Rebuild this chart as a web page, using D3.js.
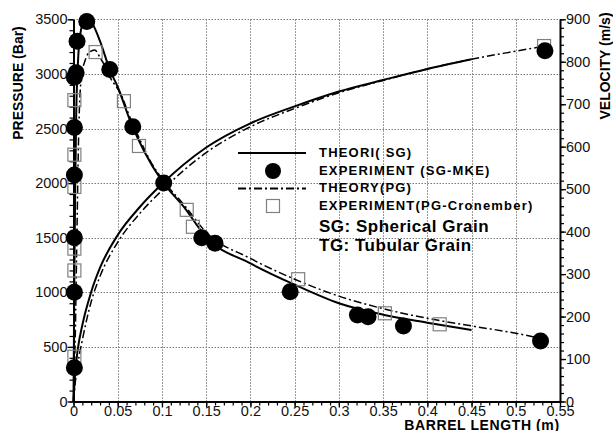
<!DOCTYPE html>
<html>
<head>
<meta charset="utf-8">
<script src="https://cdn.jsdelivr.net/npm/d3@7"></script>
<style>
  html, body { margin: 0; padding: 0; background: #fff; }
  svg { display: block; font-family: "Liberation Sans", Arial, sans-serif; }
</style>
</head>
<body>
<svg id="chart" width="613" height="431"></svg>
<script>
// Barrel length (m) vs chamber pressure (bar, left axis) and projectile velocity (m/s, right axis)

// Theory, spherical grain: pressure along the barrel
const theorySGPressX = [0, 0.0005, 0.001, 0.002, 0.003, 0.005, 0.008, 0.012, 0.016, 0.022, 0.03, 0.041, 0.05, 0.066, 0.08, 0.1, 0.125, 0.15, 0.2, 0.25, 0.3, 0.35, 0.4, 0.45];
const theorySGPress  = [0, 600, 1200, 2000, 2600, 3100, 3380, 3480, 3500, 3450, 3300, 3040, 2880, 2530, 2290, 2020, 1780, 1505, 1265, 1070, 900, 795, 722, 655];

// Theory, spherical grain: velocity along the barrel
const theorySGVelX = [0, 0.002, 0.005, 0.01, 0.02, 0.03, 0.05, 0.075, 0.1, 0.15, 0.2, 0.25, 0.3, 0.35, 0.4, 0.45];
const theorySGVel  = [0, 70, 125, 180, 258, 315, 392, 458, 512, 598, 655, 695, 730, 757, 783, 806];

// Theory, PG: pressure along the barrel
const theoryPGPressX = [0, 0.002, 0.004, 0.006, 0.009, 0.013, 0.018, 0.024, 0.03, 0.035, 0.041, 0.055, 0.062, 0.075, 0.087, 0.1, 0.125, 0.15, 0.2, 0.25, 0.3, 0.35, 0.4, 0.45, 0.5, 0.53];
const theoryPGPress  = [0, 600, 1600, 2500, 2980, 3120, 3200, 3220, 3150, 3080, 2975, 2790, 2640, 2400, 2200, 2040, 1800, 1550, 1310, 1120, 965, 850, 762, 692, 625, 575];

// Theory, PG: velocity along the barrel
const theoryPGVelX = [0, 0.002, 0.005, 0.01, 0.02, 0.03, 0.05, 0.075, 0.1, 0.15, 0.2, 0.25, 0.3, 0.35, 0.4, 0.45, 0.5, 0.53];
const theoryPGVel  = [0, 45, 90, 145, 235, 295, 375, 443, 497, 586, 647, 690, 727, 756, 783, 806, 825, 836];

// Experiment (SG-MKE): pressure points
const expSGPressX = [0.001, 0.001, 0.001, 0.001, 0.001, 0.001, 0.003, 0.004, 0.015, 0.041, 0.067, 0.102, 0.145, 0.16, 0.245, 0.321, 0.333, 0.373, 0.528];
const expSGPress  = [310, 1000, 1500, 2075, 2510, 2970, 3010, 3300, 3480, 3040, 2515, 2000, 1500, 1450, 1005, 792, 777, 691, 554];
// Experiment (SG-MKE): muzzle velocity
const expSGVelX = [0.533];
const expSGVel  = [826];

// Experiment (PG-Cronember): pressure points
const expPGPressX = [0.001, 0.001, 0.001, 0.001, 0.001, 0.001, 0.025, 0.057, 0.074, 0.128, 0.135, 0.254, 0.352, 0.414];
const expPGPress  = [410, 1200, 1400, 1965, 2260, 2760, 3200, 2750, 2340, 1755, 1600, 1120, 808, 707];
// Experiment (PG-Cronember): muzzle velocity
const expPGVelX = [0.532];
const expPGVel  = [837];

// Axis ticks
const xTicks = [0, 0.05, 0.1, 0.15, 0.2, 0.25, 0.3, 0.35, 0.4, 0.45, 0.5, 0.55];
const pressTicks = [0, 500, 1000, 1500, 2000, 2500, 3000, 3500];
const velTicks = [0, 100, 200, 300, 400, 500, 600, 700, 800, 900];

// Legend entries
const legendLabels = ["THEORI( SG)", "EXPERIMENT (SG-MKE)", "THEORY(PG)", "EXPERIMENT(PG-Cronember)"];
const noteLabels = ["SG: Spherical Grain", "TG: Tubular Grain"];

const svg = d3.select("#chart");
const plotL = 73.5, plotR = 560, plotT = 19.3, plotB = 401.5;

const x = d3.scaleLinear().domain([0, 0.55]).range([plotL, plotR]);
const yP = d3.scaleLinear().domain([0, 3500]).range([plotB, plotT]);
const yV = d3.scaleLinear().domain([0, 900]).range([plotB, plotT]);

const DASHDOT = "8,3,2,3";

// Dotted grid
const grid = svg.append("g").attr("stroke", "#7a7a7a").attr("stroke-width", 1).attr("stroke-dasharray", "1.5,1.5");
grid.selectAll("line.v").data(xTicks.slice(1, -1)).join("line")
  .attr("x1", d => Math.round(x(d)) + 0.5).attr("x2", d => Math.round(x(d)) + 0.5)
  .attr("y1", plotT).attr("y2", plotB);
grid.selectAll("line.h").data(pressTicks.slice(1)).join("line")
  .attr("x1", plotL).attr("x2", plotR)
  .attr("y1", d => Math.round(yP(d)) + 0.5).attr("y2", d => Math.round(yP(d)) + 0.5);

// Axes
function styleAxis(g) {
  g.selectAll("text").attr("fill", "#111").style("font-size", "14.5px");
  g.selectAll("line").attr("stroke", "#000").attr("stroke-width", 1.3);
  g.select(".domain").attr("stroke", "#000").attr("stroke-width", 2);
}
const fmtX = d => d === 0 ? "0" : String(d);

// Minor ticks
svg.append("g").attr("transform", `translate(0,${plotB})`)
  .call(d3.axisBottom(x).tickValues(d3.range(0, 0.5501, 0.01)).tickSize(4).tickFormat(""))
  .call(g => { g.select(".domain").remove(); g.selectAll("line").attr("stroke", "#000").attr("stroke-width", 1.2); });
svg.append("g").attr("transform", `translate(${plotL},0)`)
  .call(d3.axisLeft(yP).tickValues(d3.range(0, 3501, 100)).tickSize(4).tickFormat(""))
  .call(g => { g.select(".domain").remove(); g.selectAll("line").attr("stroke", "#000").attr("stroke-width", 1.2); });
svg.append("g").attr("transform", `translate(${plotR},0)`)
  .call(d3.axisRight(yV).tickValues(d3.range(0, 901, 20)).tickSize(4).tickFormat(""))
  .call(g => { g.select(".domain").remove(); g.selectAll("line").attr("stroke", "#000").attr("stroke-width", 1.2); });

// Major ticks with labels
svg.append("g").attr("transform", `translate(0,${plotB})`)
  .call(d3.axisBottom(x).tickValues(xTicks).tickSize(6).tickSizeOuter(0).tickPadding(-1.5).tickFormat(fmtX))
  .call(styleAxis);
svg.append("g").attr("transform", `translate(${plotL},0)`)
  .call(d3.axisLeft(yP).tickValues(pressTicks).tickSize(6).tickSizeOuter(0).tickPadding(0).tickFormat(d3.format("d")))
  .call(styleAxis);
svg.append("g").attr("transform", `translate(${plotR},0)`)
  .call(d3.axisRight(yV).tickValues(velTicks).tickSize(6).tickSizeOuter(0).tickPadding(0).tickFormat(d3.format("d")))
  .call(styleAxis);

// Axis titles
svg.append("text").attr("transform", "translate(18,83) rotate(-90)")
  .attr("text-anchor", "middle").attr("dominant-baseline", "central")
  .style("font-weight", "bold").style("font-size", "14px").text("PRESSURE (Bar)");
svg.append("text").attr("transform", "translate(605,66) rotate(-90)")
  .attr("text-anchor", "middle").attr("dominant-baseline", "central")
  .style("font-weight", "bold").style("font-size", "14px").text("VELOCITY (m/s)");
svg.append("text").attr("x", 482).attr("y", 429.5)
  .attr("text-anchor", "middle")
  .style("font-weight", "bold").style("font-size", "14px").style("letter-spacing", "0.6px")
  .text("BARREL LENGTH (m)");

// Theory curves
const zip = (xs, ys) => xs.map((v, i) => [v, ys[i]]);
const lineP = d3.line().x(d => x(d[0])).y(d => yP(d[1])).curve(d3.curveMonotoneX);
const lineV = d3.line().x(d => x(d[0])).y(d => yV(d[1])).curve(d3.curveMonotoneX);

const curves = svg.append("g").attr("fill", "none").attr("stroke", "#000");
curves.append("path").attr("d", lineP(zip(theoryPGPressX, theoryPGPress)))
  .attr("stroke-width", 1.5).attr("stroke-dasharray", DASHDOT);
curves.append("path").attr("d", lineV(zip(theoryPGVelX, theoryPGVel)))
  .attr("stroke-width", 1.5).attr("stroke-dasharray", DASHDOT);
curves.append("path").attr("d", lineP(zip(theorySGPressX, theorySGPress)))
  .attr("stroke-width", 2);
curves.append("path").attr("d", lineV(zip(theorySGVelX, theorySGVel)))
  .attr("stroke-width", 2);

// Experiment PG: open squares
const SQ = 13;
const squares = svg.append("g").attr("fill", "none").attr("stroke", "#808080").attr("stroke-width", 1.2);
squares.selectAll("rect.p").data(zip(expPGPressX, expPGPress)).join("rect")
  .attr("x", d => x(d[0]) - SQ / 2).attr("y", d => yP(d[1]) - SQ / 2).attr("width", SQ).attr("height", SQ);
squares.selectAll("rect.v").data(zip(expPGVelX, expPGVel)).join("rect")
  .attr("x", d => x(d[0]) - SQ / 2).attr("y", d => yV(d[1]) - SQ / 2).attr("width", SQ).attr("height", SQ);

// Experiment SG: filled circles
const R = 8.5;
const dots = svg.append("g").attr("fill", "#000");
dots.selectAll("circle.p").data(zip(expSGPressX, expSGPress)).join("circle")
  .attr("cx", d => x(d[0])).attr("cy", d => yP(d[1])).attr("r", R);
dots.selectAll("circle.v").data(zip(expSGVelX, expSGVel)).join("circle")
  .attr("cx", d => x(d[0])).attr("cy", d => yV(d[1])).attr("r", R);

// Legend
const lg = svg.append("g");
const rowY = [153, 171, 188.5, 206];
const lx0 = 238, lx1 = 306, tx = 319;
lg.append("line").attr("x1", lx0).attr("x2", lx1).attr("y1", rowY[0]).attr("y2", rowY[0])
  .attr("stroke", "#000").attr("stroke-width", 2);
lg.append("circle").attr("cx", (lx0 + lx1) / 2 + 1).attr("cy", rowY[1]).attr("r", 8).attr("fill", "#000");
lg.append("line").attr("x1", lx0).attr("x2", lx1).attr("y1", rowY[2]).attr("y2", rowY[2])
  .attr("stroke", "#000").attr("stroke-width", 1.8).attr("stroke-dasharray", DASHDOT);
lg.append("rect").attr("x", (lx0 + lx1) / 2 + 1 - 6.5).attr("y", rowY[3] - 6.5).attr("width", 13).attr("height", 13)
  .attr("fill", "none").attr("stroke", "#808080").attr("stroke-width", 1.2);
lg.selectAll("text.lab").data(legendLabels).join("text")
  .attr("x", tx).attr("y", (d, i) => rowY[i] - 1)
  .attr("dominant-baseline", "central")
  .style("font-weight", "bold").style("font-size", "13px").style("letter-spacing", "1.2px")
  .text(d => d);
lg.selectAll("text.note").data(noteLabels).join("text")
  .attr("x", tx).attr("y", (d, i) => 226 + i * 19.5)
  .attr("dominant-baseline", "central")
  .style("font-weight", "bold").style("font-size", "17px").style("letter-spacing", "0.5px")
  .text(d => d);
</script>
</body>
</html>
